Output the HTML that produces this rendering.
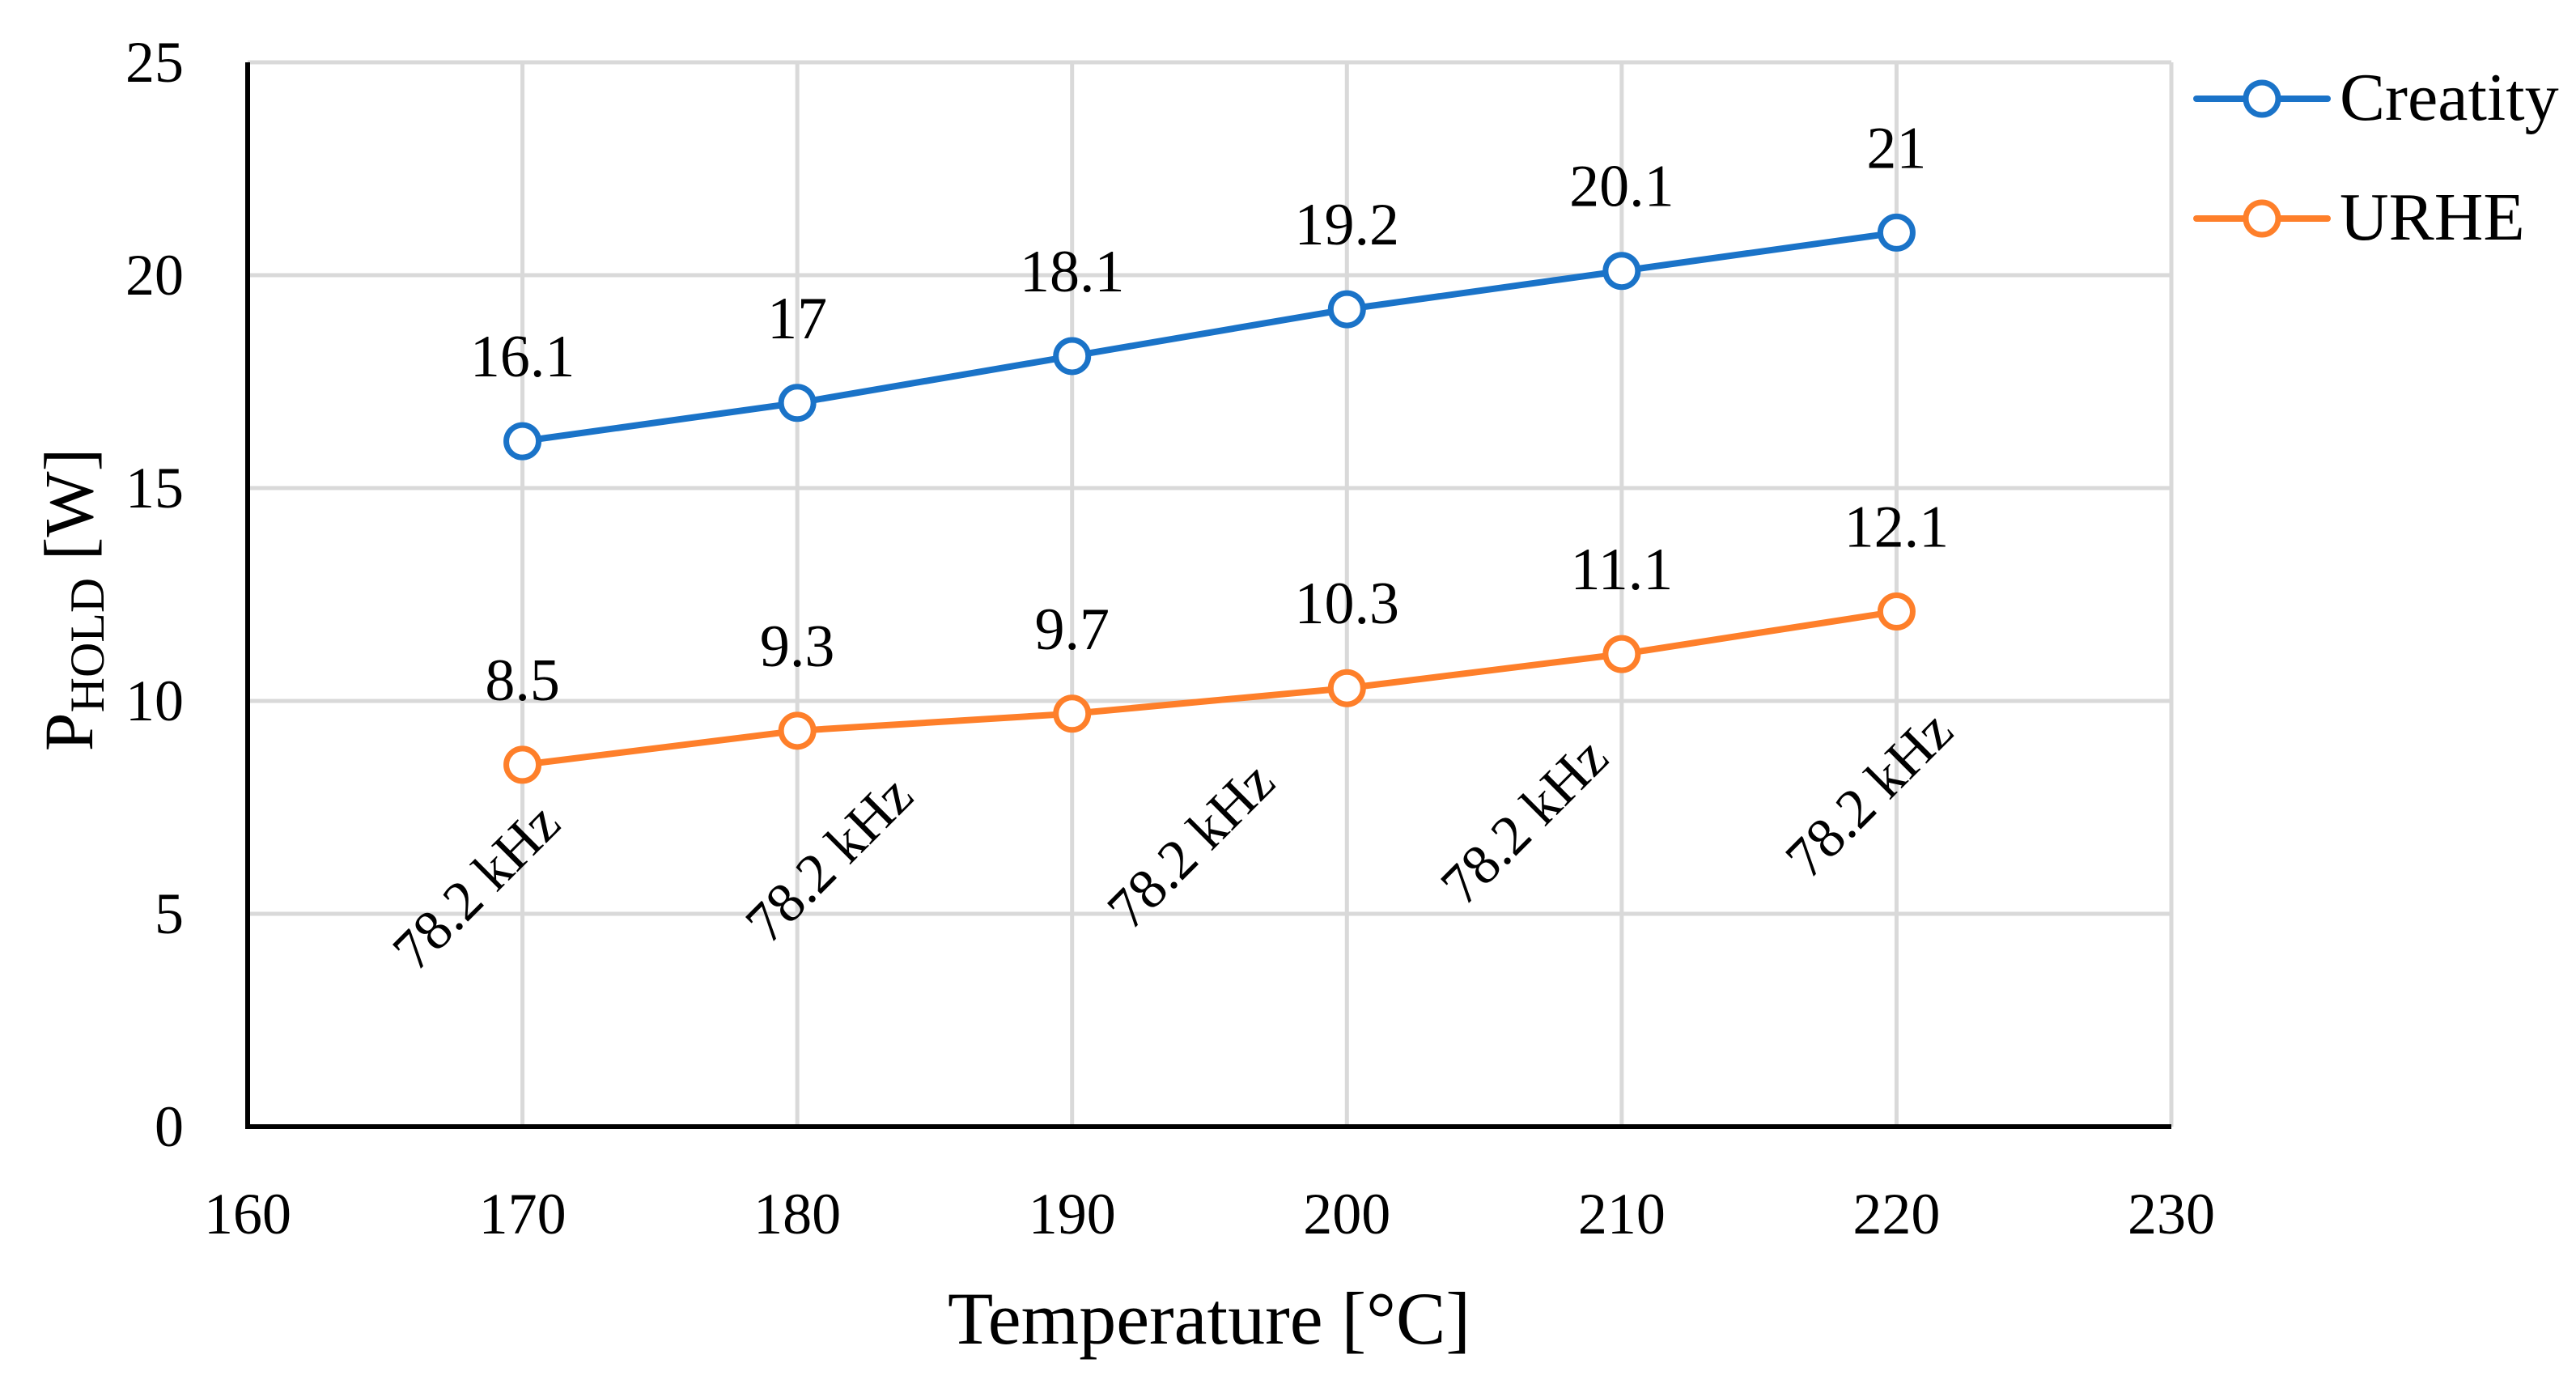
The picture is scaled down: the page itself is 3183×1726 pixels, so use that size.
<!DOCTYPE html>
<html><head><meta charset="utf-8"><style>
html,body{margin:0;padding:0;background:#fff;}
svg{display:block;font-family:"Liberation Serif",serif;}
</style></head><body>
<svg id="chart" width="3183" height="1726" viewBox="0 0 3183 1726">
<g id="grid"></g>
<g id="axes"></g>
<g id="series"></g>
<g id="labels"></g>
<text x="1494" y="1660" font-size="92" text-anchor="middle">Temperature [°C]</text>
<text transform="translate(114,741) rotate(-90)" font-size="86" text-anchor="middle">P<tspan font-size="60" dy="14">HOLD</tspan><tspan dy="-14"> [W]</tspan></text>
<g font-size="70">
<text transform="translate(589,1096) rotate(-45)" text-anchor="middle" dominant-baseline="central">78.2 kHz</text>
<text transform="translate(1025,1062) rotate(-45)" text-anchor="middle" dominant-baseline="central">78.2 kHz</text>
<text transform="translate(1472,1045) rotate(-45)" text-anchor="middle" dominant-baseline="central">78.2 kHz</text>
<text transform="translate(1884,1015) rotate(-45)" text-anchor="middle" dominant-baseline="central">78.2 kHz</text>
<text transform="translate(2310,982) rotate(-45)" text-anchor="middle" dominant-baseline="central">78.2 kHz</text>
</g>
<g>
<g>
<line x1="2714" y1="122" x2="2876" y2="122" stroke="#1a73c8" stroke-width="8" stroke-linecap="round"/>
<circle cx="2795" cy="122" r="20" fill="#fff" stroke="#1a73c8" stroke-width="7"/>
<text x="2891" y="148" font-size="84">Creatity</text>
</g>
<g>
<line x1="2714" y1="270" x2="2876" y2="270" stroke="#fe7f2a" stroke-width="8" stroke-linecap="round"/>
<circle cx="2795" cy="270" r="20" fill="#fff" stroke="#fe7f2a" stroke-width="7"/>
<text x="2891" y="296" font-size="84">URHE</text>
</g>
</g>
</svg>
<script>
const categories = [170, 180, 190, 200, 210, 220];
const creatityValues = [16.1, 17, 18.1, 19.2, 20.1, 21];
const urheValues = [8.5, 9.3, 9.7, 10.3, 11.1, 12.1];
const xTicks = [160, 170, 180, 190, 200, 210, 220, 230];
const yTicks = [0, 5, 10, 15, 20, 25];

const NS = 'http://www.w3.org/2000/svg';
const X0 = 306, X1 = 2683, Y0 = 1392, Y1 = 77;
function xs(v){ return X0 + (v - 160) / 70 * (X1 - X0); }
function ys(v){ return Y0 - v / 25 * (Y0 - Y1); }
function mk(tag, attrs, parent){
  const el = document.createElementNS(NS, tag);
  for (const k in attrs) el.setAttribute(k, attrs[k]);
  parent.appendChild(el);
  return el;
}
const grid = document.getElementById('grid');
const axes = document.getElementById('axes');
const series = document.getElementById('series');
const labels = document.getElementById('labels');

yTicks.forEach(t => {
  if (t > 0) {
    const g = mk('line', {x1: X0, x2: X1, y1: ys(t), y2: ys(t), stroke: '#d9d9d9', 'stroke-width': 5}, grid);
    
    
  }
  const tx = mk('text', {x: 227, y: ys(t) + 24, 'font-size': 72, 'text-anchor': 'end'}, axes);
  tx.textContent = t;
  
  
});
xTicks.forEach(t => {
  if (t > 160) {
    const g = mk('line', {x1: xs(t), x2: xs(t), y1: Y1, y2: Y0, stroke: '#d9d9d9', 'stroke-width': 5}, grid);
    
    
  }
  const tx = mk('text', {x: xs(t), y: 1524, 'font-size': 72, 'text-anchor': 'middle'}, axes);
  tx.textContent = t;
  
  
});
const ya = mk('line', {x1: X0, x2: X0, y1: Y1, y2: Y0 + 3, stroke: '#000', 'stroke-width': 6}, axes);


const xa = mk('line', {x1: X0 - 3, x2: X1, y1: Y0, y2: Y0, stroke: '#000', 'stroke-width': 6}, axes);



function drawSeries(vals, color, name){
  const pts = categories.map((c, i) => xs(c) + ',' + ys(vals[i])).join(' ');
  const pl = mk('polyline', {points: pts, fill: 'none', stroke: color, 'stroke-width': 8, 'stroke-linejoin': 'round'}, series);
  
  
  categories.forEach((c, i) => {
    const cc = mk('circle', {cx: xs(c), cy: ys(vals[i]), r: 20, fill: '#fff', stroke: color, 'stroke-width': 7}, series);
    
    
    const lb = mk('text', {x: xs(c), y: ys(vals[i]) - 80, 'font-size': 74, 'text-anchor': 'middle'}, labels);
    lb.textContent = vals[i];
    
    
  });
}
drawSeries(creatityValues, '#1a73c8', 'creatity');
drawSeries(urheValues, '#fe7f2a', 'urhe');
</script>
</body></html>
